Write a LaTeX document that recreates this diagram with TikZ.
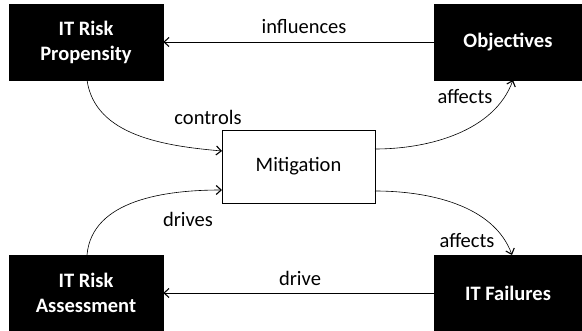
\documentclass[tikz,border=0pt]{standalone}
\usepackage{fontspec}
\setmainfont{Carlito}
\usetikzlibrary{arrows.meta}
\begin{document}
\begin{tikzpicture}[x=1pt,y=-1pt,
  blackbox/.style={fill=black,draw=black,text=white,font=\fontsize{20.5}{25}\selectfont\bfseries,align=center,inner sep=0pt},
  whitebox/.style={fill=white,draw=black,line width=0.6pt,font=\fontsize{20.5}{25}\selectfont,inner sep=0pt},
  lbl/.style={font=\fontsize{20.5}{25}\selectfont,inner sep=0pt},
  conn/.style={line width=0.6pt,-{Straight Barb[length=5pt,width=9pt,line width=1.1pt]}}]
\useasboundingbox (0,0) rectangle (582,331);
\node[blackbox,minimum width=154pt,minimum height=76pt] (prop) at (86,42) {IT Risk\\Propensity};
\node[blackbox,minimum width=148pt,minimum height=76pt] (obj) at (508,42) {Objectives};
\node[whitebox,minimum width=153pt,minimum height=73pt] (mit) at (298.5,166.5) {Mitigation};
\node[blackbox,minimum width=154pt,minimum height=75pt] (ass) at (86,292.5) {IT Risk\\Assessment};
\node[blackbox,minimum width=148pt,minimum height=76pt] (fail) at (508,293) {IT Failures};
\coordinate (propS) at (87,80);
\coordinate (assN) at (87,255);
\coordinate (mitW1) at (222,151);
\coordinate (mitW2) at (222,190);
\coordinate (mitE1) at (375,149);
\coordinate (mitE2) at (375,191);
\coordinate (objS) at (513,80);
\coordinate (failN) at (512,255);
\draw[conn] (obj.west |- 0,42) -- (prop.east |- 0,42);
\draw[conn] (fail.west |- 0,293) -- (ass.east |- 0,293);
\draw[conn] (propS) to[out=-82,in=175,looseness=0.95] (mitW1);
\draw[conn] (assN) to[out=85,in=180,looseness=0.95] (mitW2);
\draw[conn] (mitE1) to[out=0,in=-110,looseness=0.9] (objS);
\draw[conn] (mitE2) to[out=0,in=110,looseness=0.9] (failN);
\node[lbl] (l1) at (304,27) {influences};
\node[lbl] (l2) at (208,117) {controls};
\node[lbl] (l3) at (188,219) {drives};
\node[lbl] (l4) at (465,96) {affects};
\node[lbl] (l5) at (467,240) {affects};
\node[lbl] (l6) at (300,278) {drive};
\end{tikzpicture}
\end{document}
